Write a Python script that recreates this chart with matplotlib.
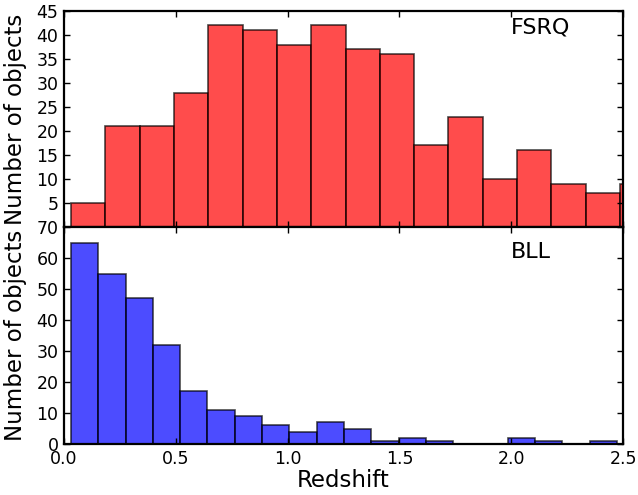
import numpy as np
import matplotlib
matplotlib.use("Agg")
import matplotlib.pyplot as plt

# Data
fsrq_counts = [5, 21, 21, 28, 42, 41, 38, 42, 37, 36, 17, 23, 10, 16, 9, 7, 9]
fsrq_bin_start = 0.031
fsrq_bin_width = 0.1535
bll_counts = [65, 55, 47, 32, 17, 11, 9, 6, 4, 7, 5, 1, 2, 1, 0, 0, 2, 1, 0, 1]
bll_bin_start = 0.031
bll_bin_width = 0.1221
x_ticks = [0.0, 0.5, 1.0, 1.5, 2.0, 2.5]
fsrq_yticks = [0, 5, 10, 15, 20, 25, 30, 35, 40, 45]
fsrq_ytick_labels = ["", "5", "10", "15", "20", "25", "30", "35", "40", "45"]
bll_yticks = [0, 10, 20, 30, 40, 50, 60, 70]

fsrq_left = fsrq_bin_start + fsrq_bin_width * np.arange(len(fsrq_counts))
bll_left = bll_bin_start + bll_bin_width * np.arange(len(bll_counts))

fig = plt.figure(figsize=(6.38, 4.95), dpi=100)
ax1 = fig.add_axes([0.1003, 0.5414, 0.8762, 0.4364])
ax2 = fig.add_axes([0.1003, 0.1030, 0.8762, 0.4384], sharex=ax1)

ax1.bar(fsrq_left, fsrq_counts, width=fsrq_bin_width, align='edge',
        color='red', edgecolor='black', linewidth=1.2, alpha=0.7)
ax2.bar(bll_left, bll_counts, width=bll_bin_width, align='edge',
        color='blue', edgecolor='black', linewidth=1.2, alpha=0.7)

ax1.set_xlim(0, 2.5)
ax1.set_ylim(0, 45)
ax2.set_ylim(0, 70)
ax1.set_yticks(fsrq_yticks)
ax1.set_yticklabels(fsrq_ytick_labels)
ax2.set_yticks(bll_yticks)
ax2.set_xticks(x_ticks)
ax2.set_xticklabels([f"{t:.1f}" for t in x_ticks])
plt.setp(ax1.get_xticklabels(), visible=False)

for ax in (ax1, ax2):
    ax.tick_params(direction='in', top=True, right=True, length=4.5, width=1,
                   labelsize=12.5, pad=4)
    for s in ax.spines.values():
        s.set_linewidth(1.6)
    ax.set_ylabel("Number of objects", fontsize=16.5)

ax1.yaxis.set_label_coords(-0.066, 0.5)
ax2.yaxis.set_label_coords(-0.066, 0.5)
ax2.set_xlabel("Redshift", fontsize=16.5, labelpad=1)

ax1.text(0.80, 0.925, "FSRQ", transform=ax1.transAxes, fontsize=16, va='center', ha='left')
ax2.text(0.80, 0.885, "BLL", transform=ax2.transAxes, fontsize=16, va='center', ha='left')

fig.savefig("out.png", dpi=100)
